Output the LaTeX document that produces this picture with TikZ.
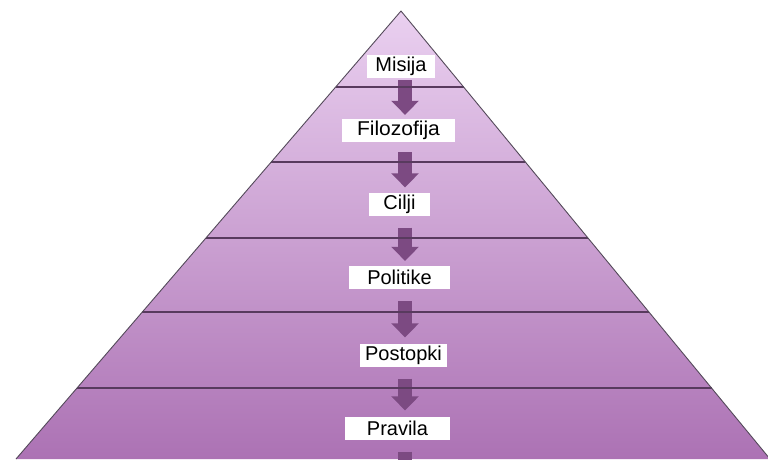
\documentclass[tikz,border=0pt]{standalone}
\usepackage{fontspec}
\setmainfont{Liberation Sans}
\usetikzlibrary{calc,arrows.meta}
\definecolor{pyrtop}{RGB}{234,208,240}
\definecolor{pyrmid}{RGB}{204,150,212}
\definecolor{pyrbot}{RGB}{172,114,180}
\definecolor{flow}{RGB}{124,74,130}
\definecolor{tier}{RGB}{88,58,94}
\definecolor{rim}{RGB}{84,74,90}
\begin{document}
\begin{tikzpicture}[x=1pt,y=-1pt,
  boxlabel/.style={fill=white, inner sep=0pt, minimum height=23pt, text=black,
    font=\fontsize{20}{22}\selectfont},
  flowarrow/.style={draw=flow, line width=14pt, -{Triangle[width=27pt,length=14pt]}},
  tierline/.style={draw=tier, line width=1.4pt},
  rimline/.style={draw=rim, line width=0.9pt, line join=round}]
\useasboundingbox (0,0) rectangle (768,459);

% pyramid body
\coordinate (apex) at (401,11);
\coordinate (bl) at (16,459);
\coordinate (br) at (770,459);
\shade[top color=pyrtop, middle color=pyrmid, bottom color=pyrbot]
  (apex) -- (bl) -- (br) -- cycle;

% level labels
\node[boxlabel, minimum width=68pt]  (misija)     at (401,66.5)  {Misija};
\node[boxlabel, minimum width=113pt] (filozofija) at (398.5,130.5) {\scalebox{1.05}[1]{Filozofija}};
\node[boxlabel, minimum width=61pt]  (cilji)      at (399.5,204) {Cilji};
\node[boxlabel, minimum width=101pt] (politike)   at (399.5,277.5) {Politike};
\node[boxlabel, minimum width=87pt]  (postopki)   at (403.5,355) {Postopki};
\node[boxlabel, minimum width=105pt] (pravila)    at (397.5,428) {Pravila};

% downward flow arrows
\coordinate (axis) at (405,0);
\coordinate (tail) at (405,462);
\draw[flowarrow, shorten <=2pt, shorten >=4pt] (misija.south -| axis) -- (filozofija.north -| axis);
\draw[flowarrow, shorten <=10pt, shorten >=5pt] (filozofija.south -| axis) -- (cilji.north -| axis);
\draw[flowarrow, shorten <=12pt, shorten >=5pt] (cilji.south -| axis) -- (politike.north -| axis);
\draw[flowarrow, shorten <=12pt, shorten >=6pt] (politike.south -| axis) -- (postopki.north -| axis);
\draw[flowarrow, shorten <=12pt, shorten >=6pt] (postopki.south -| axis) -- (pravila.north -| axis);
\draw[draw=flow, line width=14pt, shorten <=12pt] (pravila.south -| axis) -- (tail);

% tier dividers
\foreach \t [count=\i] in {0.1696,0.3371,0.5067,0.6719,0.8415} {
  \coordinate (tl\i) at ($(apex)!\t!(bl)$);
  \coordinate (tr\i) at ($(apex)!\t!(br)$);
  \draw[tierline] (tl\i) -- (tr\i);
}

% outline of the sides
\draw[rimline] (bl) -- (apex) -- (br);
\end{tikzpicture}
\end{document}
